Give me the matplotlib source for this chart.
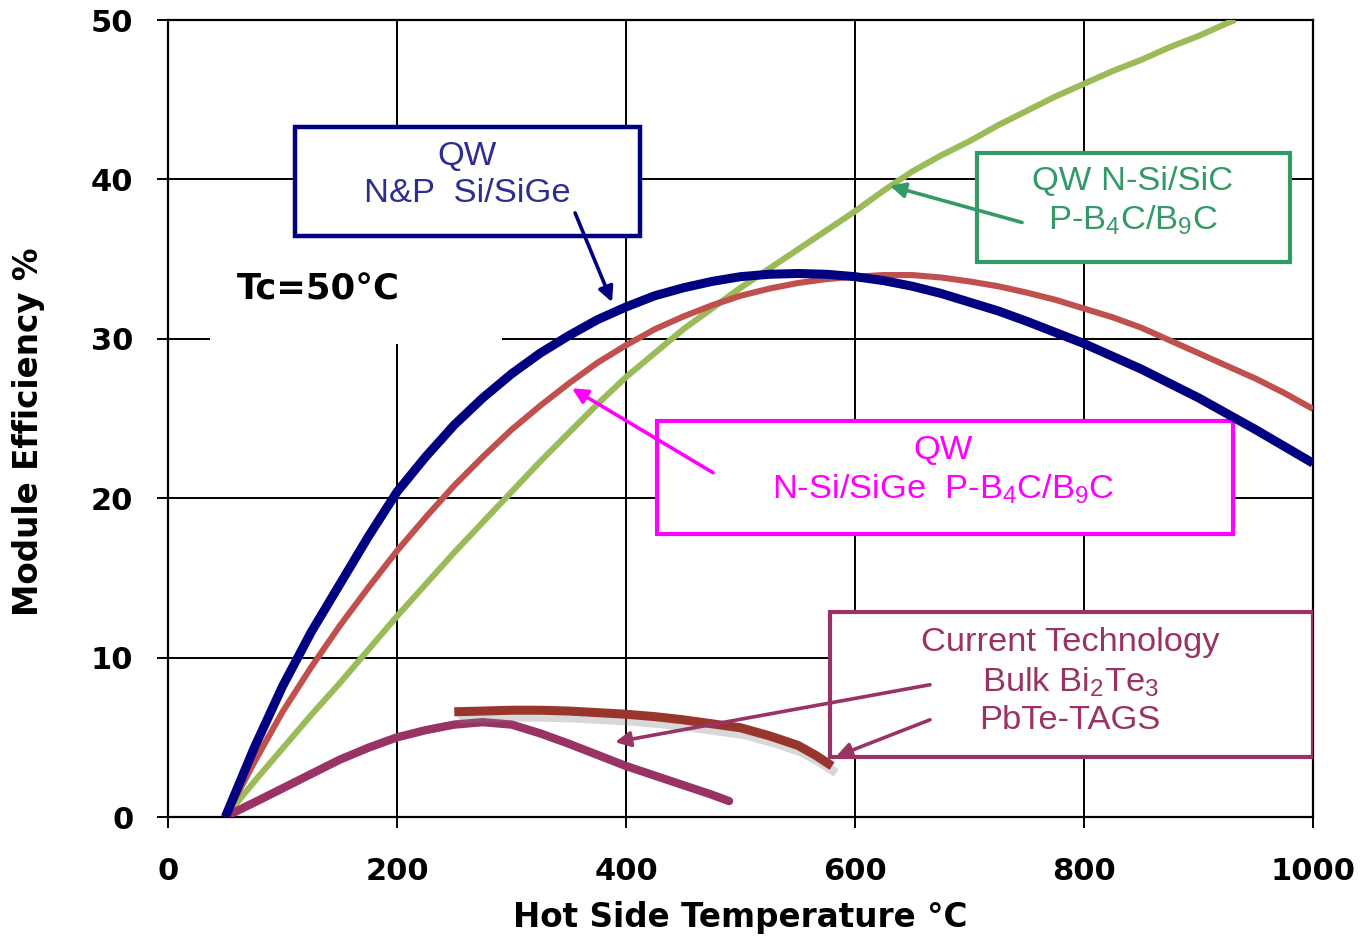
import matplotlib
matplotlib.use("Agg")
import matplotlib.pyplot as plt
from matplotlib.patches import Rectangle
import matplotlib.patheffects as pe

# Hot side temperature (°C) and module efficiency (%) for each device
t_qw_sige = [50, 75, 100, 125, 150, 175, 200, 225, 250, 275, 300, 325, 350,
             375, 400, 425, 450, 475, 500, 525, 550, 575, 600, 625, 650, 675,
             700, 725, 750, 775, 800, 825, 850, 875, 900, 925, 950, 975, 1000]
eff_qw_sige = [0, 4.3, 8.2, 11.6, 14.6, 17.6, 20.4, 22.6, 24.6, 26.3, 27.8, 29.1,
               30.2, 31.2, 32.0, 32.7, 33.2, 33.6, 33.9, 34.05, 34.1, 34.05, 33.9,
               33.65, 33.3, 32.85, 32.3, 31.75, 31.1, 30.4, 29.7, 28.9, 28.1,
               27.2, 26.3, 25.3, 24.3, 23.25, 22.2]

t_qw_mixed = [50, 75, 100, 125, 150, 175, 200, 225, 250, 275, 300, 325, 350,
              375, 400, 425, 450, 475, 500, 525, 550, 575, 600, 625, 650, 675,
              700, 725, 750, 775, 800, 825, 850, 875, 900, 925, 950, 975, 1000]
eff_qw_mixed = [0, 3.4, 6.6, 9.4, 12.0, 14.4, 16.7, 18.8, 20.8, 22.6, 24.3, 25.8,
                27.2, 28.5, 29.6, 30.6, 31.4, 32.1, 32.7, 33.15, 33.5, 33.75, 33.9,
                34.0, 34.0, 33.85, 33.6, 33.3, 32.9, 32.45, 31.9, 31.35, 30.7,
                29.9, 29.1, 28.3, 27.5, 26.6, 25.6]

t_qw_sic = [50, 75, 100, 125, 150, 175, 200, 225, 250, 275, 300, 325, 350, 375,
            400, 425, 450, 475, 500, 525, 550, 575, 600, 625, 650, 675, 700,
            725, 750, 775, 800, 825, 850, 875, 900, 925, 932]
eff_qw_sic = [0, 2.2, 4.3, 6.4, 8.4, 10.5, 12.6, 14.6, 16.6, 18.5, 20.4, 22.3,
              24.1, 25.9, 27.6, 29.1, 30.6, 31.9, 33.2, 34.4, 35.6, 36.8, 38.0,
              39.3, 40.5, 41.5, 42.4, 43.4, 44.3, 45.2, 46.0, 46.8, 47.5, 48.3,
              49.0, 49.8, 50.0]

t_bi2te3 = [55, 75, 100, 125, 150, 175, 200, 225, 250, 275, 300, 325, 350, 375,
            400, 425, 450, 475, 490]
eff_bi2te3 = [0.2, 0.9, 1.8, 2.7, 3.6, 4.35, 5.0, 5.45, 5.8, 5.95, 5.8, 5.25,
              4.6, 3.9, 3.2, 2.6, 2.0, 1.4, 1.0]

t_pbte = [250, 275, 300, 325, 350, 375, 400, 425, 450, 475, 500, 525, 550, 565, 580]
eff_pbte = [6.6, 6.65, 6.7, 6.7, 6.65, 6.55, 6.45, 6.3, 6.1, 5.85, 5.6, 5.1,
            4.5, 3.9, 3.2]

x_ticks = [0, 200, 400, 600, 800, 1000]
y_ticks = [0, 10, 20, 30, 40, 50]

NAVY = "#000080"
RED = "#C0504D"
GREEN = "#9BBB59"
PLUM = "#993366"
BROWN = "#98362E"
TEAL = "#339966"
MAGENTA = "#FF00FF"

fig = plt.figure(figsize=(13.64, 9.36), dpi=100)
ax = fig.add_axes([0.1232, 0.1271, 0.8394, 0.8515])
ax.set_xlim(0, 1000)
ax.set_ylim(0, 50)

ax.set_axisbelow(True)
ax.grid(True, color="black", linewidth=1.4)
for s in ax.spines.values():
    s.set_color("black")
    s.set_linewidth(1.6)

ax.set_xticks(x_ticks)
ax.set_yticks(y_ticks)
tick_font = dict(family="DejaVu Sans", weight="bold", size=22)
ax.set_xticklabels([str(v) for v in x_ticks], fontdict=tick_font)
ax.set_yticklabels([str(v) for v in y_ticks], fontdict=tick_font)
ax.tick_params(axis="x", direction="out", length=8, width=1.4, pad=21)
ax.tick_params(axis="y", direction="out", length=8, width=1.4, pad=17)

ax.set_xlabel("Hot Side Temperature °C", family="DejaVu Sans", weight="bold", size=23.5)
ax.set_ylabel("Module Efficiency %", family="DejaVu Sans", weight="bold", size=23.5)
ax.xaxis.label.set_va("center")
ax.yaxis.label.set_va("center")
ax.xaxis.set_label_coords(0.5, -0.1255)
ax.yaxis.set_label_coords(-0.122, 0.483)

# Cold side temperature label on a white patch
ax.add_patch(Rectangle((36.7, 29.7), 255, 6.7, facecolor="white", edgecolor="none", zorder=1))
ax.text(131, 33.1, "Tc=50°C", family="DejaVu Sans", weight="bold", size=25.5,
        ha="center", va="center", zorder=2)

# Efficiency curves
ax.plot(t_qw_sic, eff_qw_sic, color=GREEN, lw=4.4, zorder=5, solid_capstyle="butt")
ax.plot(t_qw_mixed, eff_qw_mixed, color=RED, lw=4.4, zorder=5, solid_capstyle="butt")
ax.plot(t_qw_sige, eff_qw_sige, color=NAVY, lw=6.5, zorder=6, solid_capstyle="butt")
ax.plot(t_bi2te3, eff_bi2te3, color=PLUM, lw=6.0, zorder=5, solid_capstyle="round")
ax.plot(t_pbte, eff_pbte, color=BROWN, lw=6.5, zorder=5, solid_capstyle="butt",
        path_effects=[pe.SimpleLineShadow(offset=(3, -5), shadow_color="gray", alpha=0.3),
                      pe.Normal()])

label_font = dict(family="Liberation Sans", size=24.8, ha="center", va="center",
                  linespacing=1.26, zorder=8)


def callout(x0, y0, x1, y1, edge, lw=3.0):
    ax.add_patch(Rectangle((x0, y0), x1 - x0, y1 - y0, facecolor="white",
                           edgecolor=edge, linewidth=lw, zorder=4))


def pointer(tail, head, color, lw=2.6):
    ax.annotate("", xy=head, xytext=tail, zorder=9,
                arrowprops=dict(arrowstyle="-|>,head_length=0.9,head_width=0.45",
                                color=color, lw=lw, shrinkA=0, shrinkB=0))


# Quantum-well Si/SiGe
callout(110.9, 36.45, 412.2, 43.3, NAVY, 3.2)
ax.text(261, 40.3, "QW\nN&P  Si/SiGe", color="#2E2E90", **label_font)
pointer((355.5, 37.9), (387.8, 32.3), NAVY)

# Quantum-well Si/SiC with boron carbide
callout(706.6, 34.82, 979.9, 41.66, TEAL, 3.0)
ax.text(842.8, 38.6, "QW N-Si/SiC\nP-B$\\mathregular{_4}$C/B$\\mathregular{_9}$C",
        color=TEAL, **label_font)
pointer((745.9, 37.3), (630.6, 39.6), TEAL)

# Quantum-well Si/SiGe with boron carbide
callout(427.1, 17.75, 930.1, 24.84, MAGENTA, 3.0)
ax.text(676.9, 21.75, "QW\nN-Si/SiGe  P-B$\\mathregular{_4}$C/B$\\mathregular{_9}$C",
        color=MAGENTA, **label_font)
pointer((476, 21.6), (352.8, 26.9), MAGENTA)

# Current bulk technology
callout(578.2, 3.76, 1000, 12.86, PLUM, 3.0)
ax.text(787.8, 8.5,
        "Current Technology\nBulk Bi$\\mathregular{_2}$Te$\\mathregular{_3}$\nPbTe-TAGS",
        color=PLUM, **label_font)
pointer((665.5, 8.3), (390.4, 4.7), PLUM)
pointer((665.5, 6.1), (583.4, 3.8), PLUM)

fig.savefig("out.png", dpi=100)
